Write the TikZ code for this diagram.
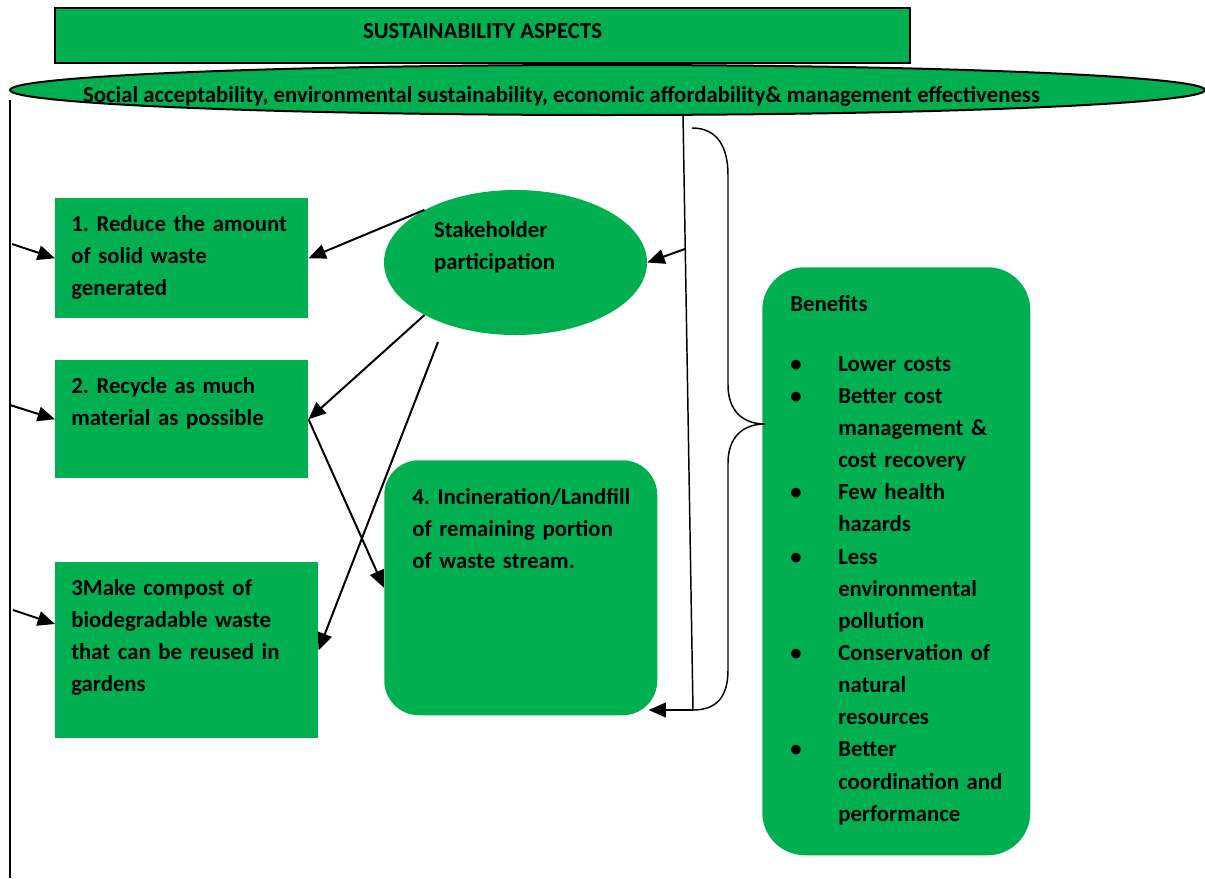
\documentclass[tikz,border=0pt]{standalone}
\usepackage{fontspec}
\setmainfont{Carlito}
\usetikzlibrary{shapes.geometric,calc,arrows.meta}
\definecolor{wgreen}{RGB}{0,176,80}
\newcommand\benbul{\makebox[36pt][l]{\textbullet}}
\newcommand\benind{\makebox[36pt]{}}

\begin{document}
\begin{tikzpicture}[x=0.75pt,y=-0.75pt,
  font=\fontsize{17.1}{24.1}\selectfont\bfseries\frenchspacing,
  box/.style={fill=wgreen, anchor=north west, align=left, inner xsep=12pt, inner ysep=0pt, text height=24.75pt},
  rbox/.style={box, rounded corners=26pt, inner xsep=21pt, text height=33pt},
  arr/.style={line width=1.5pt, -{Triangle[length=13pt,width=11pt]}},
  bline/.style={line width=1.1pt}]
  \useasboundingbox (0,0) rectangle (1205,878);
  % heading and aspects
  \node[draw, line width=1.5pt, fill=wgreen, minimum width=641.25pt, minimum height=41.25pt, text height=11pt, text depth=7pt] (asp) at (482.5,35.5) {SUSTAINABILITY ASPECTS};
  \coordinate (lt) at (10,100);
  \coordinate (lb) at (10,878);
  \draw[bline] (lt) -- (lb);
  \node[ellipse, draw, line width=1.5pt, fill=wgreen, inner sep=0pt, minimum width=896.25pt, minimum height=37.5pt, text height=18pt, text depth=0pt] (soc) at (607.5,90) {\makebox[0pt]{Social acceptability, environmental sustainability, economic affordability\& management effectiveness\hspace{69pt}}};

  % hierarchy boxes
  \node[box, text width=165.75pt, text depth=65.25pt] (b1) at (55,198) {1. Reduce the amount\\of solid waste\\generated};
  \node[box, text width=165.75pt, text depth=63.75pt] (b2) at (55,360) {2. Recycle as much\\material as possible};
  \node[box, text width=173.25pt, text depth=107.25pt] (b3) at (55,562) {3Make compost of\\biodegradable waste\\that can be reused in\\gardens};
  \node[rbox, text width=162.75pt, text depth=158.25pt] (b4) at (384,460) {\mbox{4. Incineration/Landfill}\\of remaining portion\\of waste stream.};
  \node[ellipse, fill=wgreen, inner sep=0pt, minimum width=197.25pt, minimum height=108.75pt, text width=122.25pt, align=left, text height=12pt, text depth=50.25pt] (s) at (515.5,262.5) {Stakeholder\\participation};
  \node[rbox, rounded corners=32pt, text width=159pt, text depth=408pt] (ben) at (762,267) {Benefits\\[20.9pt]
    \benbul Lower costs\\
    \benbul Better cost\\
    \benind \mbox{management \&}\\
    \benind cost recovery\\
    \benbul Few health\\
    \benind hazards\\
    \benbul Less\\
    \benind environmental\\
    \benind pollution\\
    \benbul \mbox{Conservation of}\\
    \benind natural\\
    \benind resources\\
    \benbul Better\\
    \benind \mbox{coordination and}\\
    \benind performance};

  % arrows from the left line
  \coordinate (l1) at (12,244);
  \coordinate (l2) at (10,405);
  \coordinate (l3) at (13,610);
  \draw[arr] (l1) -- (b1.west);
  \draw[arr] (l2) -- (b2.west);
  \draw[arr] (l3) -- ($(b3.north west)+(0,62)$);

  % stakeholder arrows
  \coordinate (k4) at (438,342);
  \draw[arr] (s.150) -- (b1.east);
  \draw[arr] (s.210) -- (b2.east);
  \draw[arr] (k4) -- (b3.east);
  \draw[arr] (b2.east) -- (b4.west);

  % line down from the aspects
  \coordinate (k1) at (683,115);
  \coordinate (k2) at (693,710);
  \coordinate (k3) at ($(k1)!0.225!(k2)$);
  \draw[bline] (k1) -- (k2);
  \draw[arr, shorten >=-6.75pt] (k2) -- (k2 -| b4.east);
  \draw[arr] (k3) -- (s.east);

  % brace to benefits
  \draw[bline] (692,128) .. controls (718,128) and (728,148) .. (728,175) -- (728,385)
    .. controls (728,410) and (742,424) .. (765,424)
    .. controls (742,424) and (728,438) .. (728,463) -- (728,670)
    .. controls (728,695) and (718,710) .. (k2);
\end{tikzpicture}
\end{document}
